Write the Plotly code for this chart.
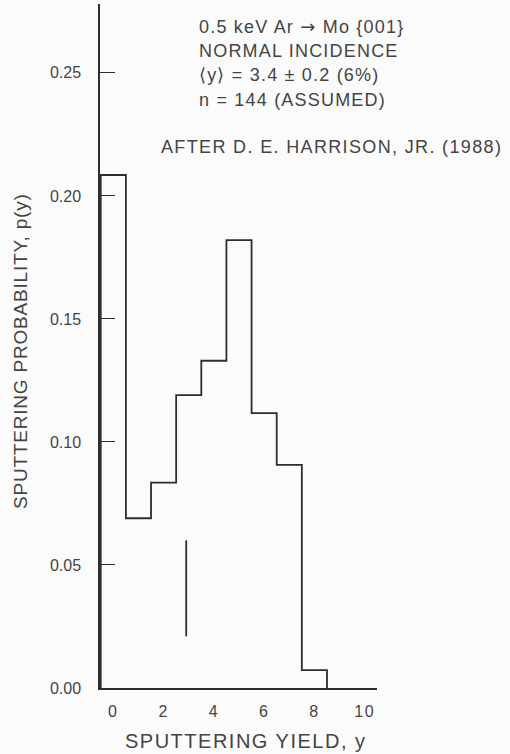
import plotly.graph_objects as go

# ---- data ----
yields = [0, 1, 2, 3, 4, 5, 6, 7, 8]
probs = [0.2085, 0.069, 0.0835, 0.119, 0.133, 0.182, 0.1117, 0.0907, 0.0073]
marker_x = [2.9, 2.9]
marker_y = [0.021, 0.060]
y_ticks = [0.00, 0.05, 0.10, 0.15, 0.20, 0.25]
x_ticks = [0, 2, 4, 6, 8, 10]
info_lines = [
    "0.5 keV Ar <span style=\"font-family:DejaVu Sans\">\u2192</span> Mo {001}",
    "NORMAL INCIDENCE",
    "\u27e8y\u27e9 = 3.4 \u00b1 0.2 (6%)",
    "n = 144 (ASSUMED)",
]
credit = "AFTER D. E. HARRISON, JR. (1988)"
x_title = "SPUTTERING YIELD, y"
y_title = "SPUTTERING PROBABILITY, p(y)"

# ---- styling ----
FONT = "Liberation Sans, Arial, Helvetica, sans-serif"
TXT = "#444444"
LINE = "#2e2e2e"
BG = "#fbfbfb"


def spaced(s, px):
    return f'<span style="letter-spacing:{px}px">{s}</span>'


# step outline of the histogram (bins centred on integers)
step_x = [yields[0] - 0.5] + [y - 0.5 for y in yields] + [yields[-1] + 0.5]
step_y = [0] + probs + [0]

fig = go.Figure()
fig.add_trace(go.Scatter(
    x=step_x, y=step_y, mode="lines", line_shape="hv",
    line=dict(color=LINE, width=1.8), hoverinfo="skip", showlegend=False,
))
fig.add_trace(go.Scatter(
    x=marker_x, y=marker_y, mode="lines",
    line=dict(color=LINE, width=1.8), hoverinfo="skip", showlegend=False,
))

fig.update_layout(
    width=510, height=754,
    margin=dict(l=100, r=133, t=4, b=66),
    paper_bgcolor=BG, plot_bgcolor=BG,
    font=dict(family=FONT, color=TXT, size=16),
    showlegend=False,
)
fig.update_xaxes(
    range=[-0.53, 10.49], showgrid=False, zeroline=False,
    showline=True, linecolor=LINE, linewidth=1.5,
    ticks="", tickmode="array", tickvals=x_ticks,
    ticktext=[spaced(str(v), 1.5) for v in x_ticks],
    tickfont=dict(size=16, color=TXT), ticklabelstandoff=8,
)
fig.update_yaxes(
    range=[0, 0.278], showgrid=False, zeroline=False,
    showline=True, linecolor=LINE, linewidth=1.5,
    ticks="inside", ticklen=15, tickwidth=1.3, tickcolor=LINE,
    tickmode="array", tickvals=y_ticks,
    ticktext=[f"{v:.2f}" for v in y_ticks],
    tickfont=dict(size=16, color=TXT), ticklabelstandoff=14,
)

# info text block (positions in data units)
info_y = [0.2687, 0.2589, 0.2490, 0.2390]
for line, yy in zip(info_lines, info_y):
    fig.add_annotation(
        x=3.33, y=yy, xref="x", yref="y", xanchor="left", yanchor="middle",
        text=spaced(line, 1.2), showarrow=False,
        font=dict(size=18, color=TXT, family=FONT),
    )
fig.add_annotation(
    x=1.83, y=0.2197, xref="x", yref="y", xanchor="left", yanchor="middle",
    text=spaced(credit, 1.35), showarrow=False,
    font=dict(size=18, color=TXT, family=FONT),
)

# axis titles
fig.add_annotation(
    x=(246 - 100) / 277, y=-(741 - 688) / 684, xref="paper", yref="paper",
    xanchor="center", yanchor="middle", text=spaced(x_title, 1.5),
    showarrow=False, font=dict(size=20, color=TXT, family=FONT),
)
fig.add_annotation(
    x=-(100 - 20) / 277, y=(688 - 351) / 684, xref="paper", yref="paper",
    xanchor="center", yanchor="middle", textangle=-90,
    text=spaced(y_title, 0.8), showarrow=False,
    font=dict(size=19, color=TXT, family=FONT),
)

fig.write_html("out.html")
